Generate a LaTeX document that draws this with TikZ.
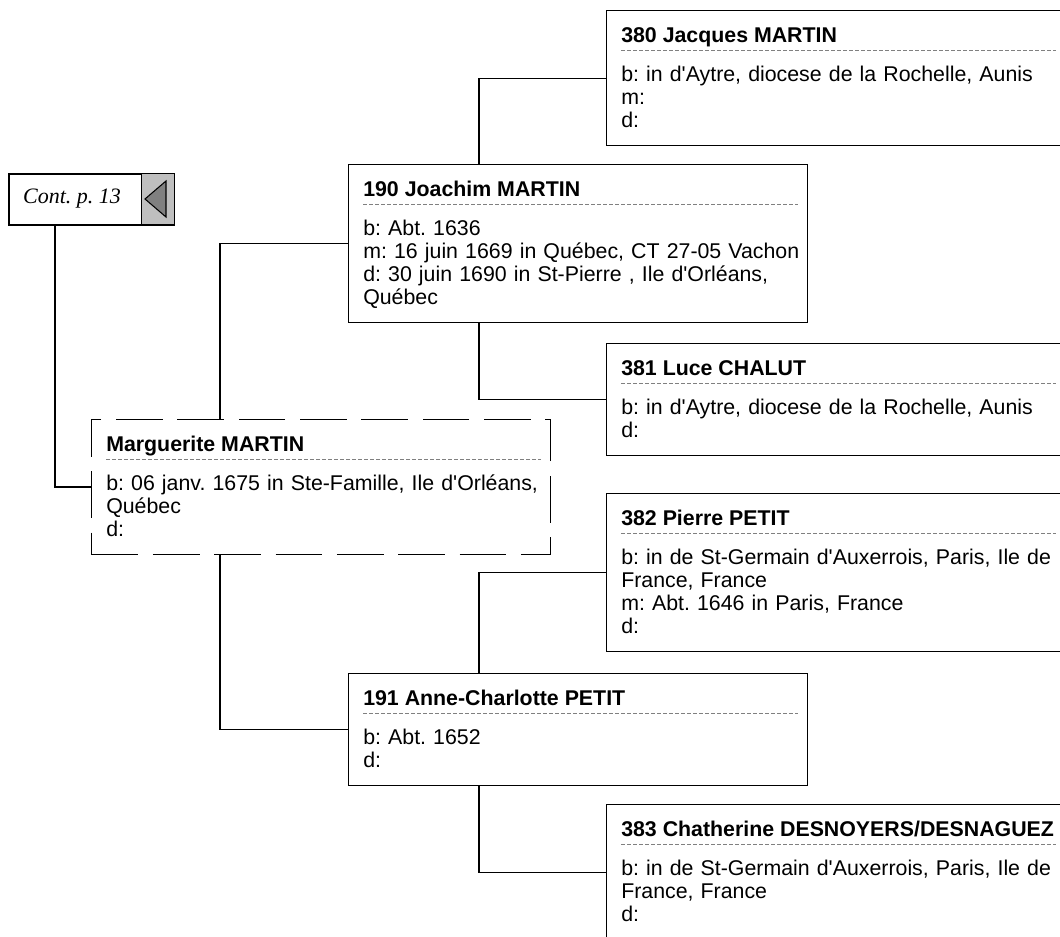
\documentclass[tikz,border=0pt]{standalone}
\usepackage{fontspec}
\setmainfont{Liberation Sans}[Ligatures=TeXOff]
\newfontfamily\contfont{Liberation Serif}
\frenchspacing
\tikzset{
  every person/.style={draw, line width=1.1pt, anchor=north west,
    minimum width=344pt, inner sep=0pt, fill=white},
  two lines/.style={minimum height=84pt},
  three lines/.style={minimum height=101.25pt},
  four lines/.style={minimum height=118.5pt},
  root person/.style={line width=0.75pt, dash pattern=on 35pt off 11pt},
  name text/.style={font=\fontsize{16}{17.25}\selectfont\bfseries,
    anchor=base west, inner sep=0pt},
  info text/.style={font=\fontsize{16}{17.25}\selectfont\setlength\normalbaselineskip{17.25pt},
    anchor=base west, inner sep=0pt, text width=335pt, align=left},
  sep line/.style={gray, line width=0.5pt, dash pattern=on 3pt off 1.5pt},
  link/.style={line width=1.1pt},
}
\begin{document}
\begin{tikzpicture}[x=0.75pt, y=-0.75pt]
  \useasboundingbox (0,0) rectangle (1060,936);
  \clip (0,0) rectangle (1060,936);

  \node [every person, three lines] (p380) at (606,10) {};
  \node [every person, four lines] (p190) at (348,164) {};
  \node [every person, two lines] (p381) at (606,343) {};
  \node [every person, three lines, root person] (marg) at (91,419) {};
  \node [every person, four lines] (p382) at (606,493) {};
  \node [every person, two lines] (p191) at (348,673) {};
  \node [every person, three lines] (p383) at (606,804) {};

  \node [draw, line width=1.5pt, anchor=north west, minimum width=123.75pt,
    minimum height=38.25pt, inner sep=0pt] (cont) at (8,173) {};
  \node [draw, line width=1pt, fill=gray!50, anchor=north east, minimum width=24.75pt,
    minimum height=38.25pt, inner sep=0pt] (cont-btn) at (cont.north east) {};
  \draw [fill=gray, line width=0.8pt] (145,199) -- (166,181) -- (166,217) -- cycle;
  \node [font=\contfont\itshape\fontsize{16.5}{18}\selectfont, inner sep=0pt]
    (cont-t) at (72,199) {Cont. p. 13};

  \foreach \p in {p380, p190, p381, marg, p382, p191, p383}
    \draw [sep line] ([shift={(15,40)}]\p.north west) -- ([shift={(-10,40)}]\p.north east);

  \node [name text] (p380-n) at ([shift={(15,32)}]p380.north west) {380 Jacques MARTIN};
  \node [info text] (p380-i) at ([shift={(15,71)}]p380.north west)
    {b: in d'Aytre, diocese de la Rochelle, Aunis\\m:\\d:};
  \node [name text] (p190-n) at ([shift={(15,32)}]p190.north west) {190 Joachim MARTIN};
  \node [info text] (p190-i) at ([shift={(15,71)}]p190.north west)
    {b: Abt. 1636\\m: 16 juin 1669 in Québec, CT 27-05 Vachon\\d: 30 juin 1690 in St-Pierre , Ile d'Orléans,\\Québec};
  \node [name text] (p381-n) at ([shift={(15,32)}]p381.north west) {381 Luce CHALUT};
  \node [info text] (p381-i) at ([shift={(15,71)}]p381.north west)
    {b: in d'Aytre, diocese de la Rochelle, Aunis\\d:};
  \node [name text] (marg-n) at ([shift={(15,32)}]marg.north west) {Marguerite MARTIN};
  \node [info text] (marg-i) at ([shift={(15,71)}]marg.north west)
    {b: 06 janv. 1675 in Ste-Famille, Ile d'Orléans,\\Québec\\d:};
  \node [name text] (p382-n) at ([shift={(15,32)}]p382.north west) {382 Pierre PETIT};
  \node [info text] (p382-i) at ([shift={(15,71)}]p382.north west)
    {b: in de St-Germain d'Auxerrois, Paris, Ile de\\France, France\\m: Abt. 1646 in Paris, France\\d:};
  \node [name text] (p191-n) at ([shift={(15,32)}]p191.north west) {191 Anne-Charlotte PETIT};
  \node [info text] (p191-i) at ([shift={(15,71)}]p191.north west)
    {b: Abt. 1652\\d:};
  \node [name text] (p383-n) at ([shift={(15,32)}]p383.north west) {383 Chatherine DESNOYERS/DESNAGUEZ};
  \node [info text] (p383-i) at ([shift={(15,71)}]p383.north west)
    {b: in de St-Germain d'Auxerrois, Paris, Ile de\\France, France\\d:};

  \draw [link] ([xshift=98.25pt]p190.north west) |- (p380.west);
  \draw [link] ([xshift=98.25pt]p190.south west) |- (p381.west);
  \draw [link] ([xshift=96.75pt]marg.north west) |- (p190.west);
  \draw [link] ([xshift=96.75pt]marg.south west) |- (p191.west);
  \draw [link] ([xshift=98.25pt]p191.north west) |- (p382.west);
  \draw [link] ([xshift=98.25pt]p191.south west) |- (p383.west);
  \draw [link] ([xshift=35.25pt]cont.south west) |- (marg.west);
\end{tikzpicture}
\end{document}
